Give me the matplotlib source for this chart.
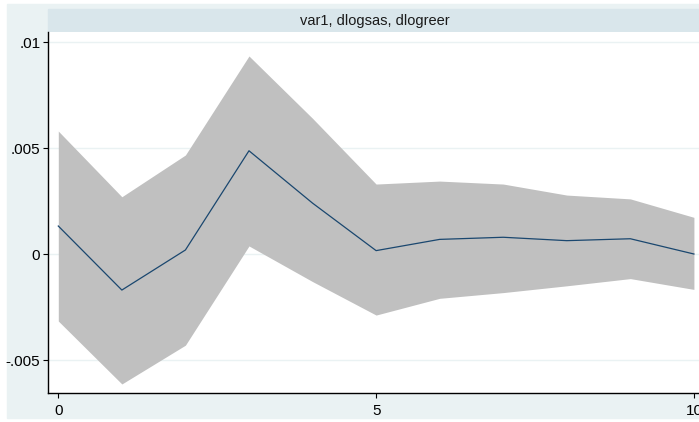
import numpy as np
import matplotlib.pyplot as plt
from matplotlib.patches import Rectangle

# impulse response of dlogsas to dlogreer, with confidence band
step = [0, 1, 2, 3, 4, 5, 6, 7, 8, 9, 10]
irf = [0.00132, -0.0017, 0.00019, 0.00487, 0.0024, 0.00016, 0.00069, 0.00079, 0.00063, 0.00072, 0.0]
upper = [0.0058, 0.0027, 0.00467, 0.00934, 0.0064, 0.0033, 0.00344, 0.0033, 0.00278, 0.0026, 0.00173]
lower = [-0.00316, -0.00613, -0.0043, 0.00038, -0.0013, -0.00288, -0.00209, -0.00182, -0.0015, -0.00116, -0.00167]

yticks = [-0.005, 0, 0.005, 0.01]
ytick_labels = ['-.005', '0', '.005', '.01']
xticks = [0, 5, 10]
panel_title = 'var1, dlogsas, dlogreer'

plt.rcParams['font.family'] = ['Liberation Sans', 'DejaVu Sans']

W, H = 699, 422
fig = plt.figure(figsize=(W / 100, H / 100), dpi=100, facecolor='white')

# outer graph region and title strip (kept below the axes)
fig.patches.append(Rectangle((7 / W, 4 / H), 1 - 7 / W, 414 / H,
                             transform=fig.transFigure, color='#eaf2f3', zorder=-2))
fig.patches.append(Rectangle((48 / W, (H - 32) / H), 1 - 48 / W, 23 / H,
                             transform=fig.transFigure, color='#d9e6eb', zorder=-1))
fig.text(375 / W, (H - 20.5) / H, panel_title, ha='center', va='center',
         fontsize=10.5, color='#1a1a1a')

ax = fig.add_axes([48 / W, (H - 393.3) / H, (W - 48) / W, (393.3 - 32) / H])
ax.set_zorder(1)
ax.set_facecolor('white')

ax.fill_between(step, lower, upper, color='#c0c0c0', linewidth=0, zorder=2)
ax.plot(step, irf, color='#1a476f', linewidth=0.9, zorder=3)

ax.set_xlim(-0.162, 10.08)
ax.set_ylim(-0.00657, 0.010472)

ax.set_yticks(yticks)
ax.set_yticklabels(ytick_labels)
ax.set_xticks(xticks)
ax.grid(axis='y', color='#eaf2f3', linewidth=1, zorder=1)
ax.set_axisbelow(True)

for side in ['top', 'right']:
    ax.spines[side].set_visible(False)
for side in ['left', 'bottom']:
    ax.spines[side].set_color('black')
    ax.spines[side].set_linewidth(1.0)

ax.tick_params(direction='out', length=3.5, width=0.8, colors='black',
               labelsize=11)
ax.tick_params(axis='y', pad=2)
ax.tick_params(axis='x', pad=4)

fig.savefig('out.png', dpi=100, facecolor='white')
